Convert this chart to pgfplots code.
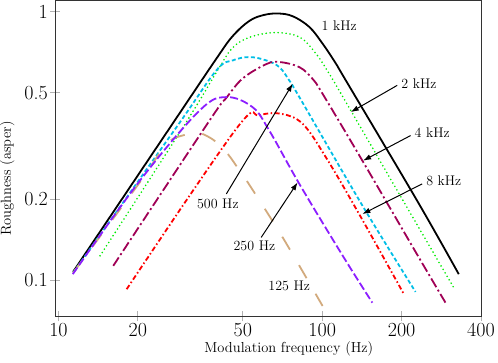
\documentclass[border=0pt]{standalone}
\usepackage{pgfplots}
\pgfplotsset{compat=1.18}
\usetikzlibrary{arrows.meta}

\definecolor{cgreen}{RGB}{0,235,0}
\definecolor{ccyan}{RGB}{0,190,230}
\definecolor{cmaroon}{RGB}{160,0,85}
\definecolor{cred}{RGB}{255,0,0}
\definecolor{cpurple}{RGB}{140,30,255}
\definecolor{ctan}{RGB}{210,170,125}

\begin{document}
\begin{tikzpicture}
\begin{axis}[
  xmode=log, ymode=log,
  scale only axis,
  width=426pt, height=315.7pt,
  xmin=9.7, xmax=400,
  ymin=0.0735, ymax=1.1,
  xtick={10,20,50,100,200,400},
  xticklabels={10,20,50,100,200,400},
  ytick={0.1,0.2,0.5,1},
  yticklabels={0.1,0.2,0.5,1},
  minor xtick={}, minor ytick={},
  tick pos=left,
  tick align=center,
  major tick length=10pt,
  tick style={gray!60, line width=0.8pt},
  axis line style={black!80, line width=0.8pt},
  ticklabel style={font=\fontsize{20}{22}\selectfont},
  xticklabel style={inner sep=0.5pt, yshift=-1pt},
  yticklabel style={inner sep=1pt, xshift=-1pt},
  label style={font=\fontsize{14.5}{16}\selectfont},
  xlabel={Modulation frequency (Hz)},
  ylabel={Roughness (asper)},
  x label style={at={(axis description cs:0.549,0)}, anchor=center, yshift=-33pt},
  y label style={at={(axis description cs:-0.112,0.436)}, anchor=center},
  every axis plot/.append style={line width=1.8pt, smooth, tension=0.6},
]
% 1 kHz
\addplot[black] coordinates {
  (11.36,0.1076) (26.0,0.361) (39.7,0.669) (45.8,0.812)
  (53,0.925) (60,0.972) (68,0.985) (77.3,0.962) (89.3,0.878)
  (100.3,0.761) (112.7,0.641) (122.9,0.555) (229,0.198) (329.4,0.1055)};
% 2 kHz
\addplot[cgreen, line cap=round, dash pattern=on 0pt off 4pt] coordinates {
  (14.37,0.1234) (29.67,0.3715) (40.8,0.622) (45.8,0.735)
  (53,0.803) (65.9,0.836) (81.9,0.805) (94.7,0.698) (106.3,0.588)
  (115.9,0.5095) (128.3,0.429) (232.5,0.157) (315.2,0.094)};
% 500 Hz
\addplot[ccyan, dash pattern=on 4pt off 2.5pt] coordinates {
  (11.39,0.107) (28,0.3715) (39.7,0.605) (45.8,0.659) (53,0.678)
  (61.3,0.659) (68.8,0.622) (75,0.555) (81.9,0.481) (142,0.19)
  (225.9,0.0906)};
% 4 kHz
\addplot[cmaroon, dash pattern=on 10pt off 3pt on 2pt off 3pt] coordinates {
  (16.13,0.1133) (37.4,0.3937) (43.3,0.478) (50,0.565) (61.3,0.638)
  (68.8,0.650) (81.9,0.622) (91.9,0.5626) (100.3,0.495) (142,0.279)
  (232.5,0.1217) (293.4,0.0826)};
% 8 kHz
\addplot[cred, dash pattern=on 5pt off 2.5pt on 1.5pt off 2.5pt] coordinates {
  (18.13,0.0927) (47.2,0.3666) (57.8,0.411) (69.8,0.417) (84.3,0.3826)
  (103.3,0.287) (138,0.1766) (204.1,0.0888)};
% 125 Hz
\addplot[ctan, dash pattern=on 15pt off 18pt] coordinates {
  (11.36,0.1066) (20.35,0.232) (25.7,0.322) (30.1,0.348) (33.5,0.355)
  (36.5,0.345) (39.7,0.3266) (43.9,0.2951) (48.6,0.2562) (52.2,0.2317)
  (70.8,0.1445) (100.3,0.0803)};
% 250 Hz
\addplot[cpurple, dash pattern=on 8pt off 3pt] coordinates {
  (11.33,0.1055) (20.35,0.235) (34.3,0.429) (43.3,0.481) (54.5,0.441)
  (63.1,0.36) (81.9,0.2286) (119.3,0.124) (154.9,0.0826)};

\begin{scope}[font=\fontsize{14}{16}\selectfont]
\node at (axis cs:115.9,0.890) {1 kHz};
\node at (axis cs:232.5,0.540) {2 kHz};
\node at (axis cs:261.1,0.356) {4 kHz};
\node at (axis cs:289,0.235) {8 kHz};
\node at (axis cs:40.2,0.1925) {500 Hz};
\node at (axis cs:55.3,0.1345) {250 Hz};
\node at (axis cs:75.0,0.0954) {125 Hz};
\end{scope}
\begin{scope}[line width=1pt, -{Latex[length=8pt,width=5.5pt]}]
\draw (axis cs:192.5,0.532) -- (axis cs:128.3,0.423);
\draw (axis cs:216.3,0.346) -- (axis cs:142.9,0.279);
\draw (axis cs:239.3,0.2286) -- (axis cs:142.0,0.1766);
\draw (axis cs:43.3,0.2098) -- (axis cs:77.3,0.540);
\draw (axis cs:58.7,0.1445) -- (axis cs:80.7,0.2317);
\end{scope}
\end{axis}
\pgfresetboundingbox
\path ([shift={(-55pt,-46.3pt)}]current axis.south west) rectangle ([shift={(17pt,0.6pt)}]current axis.north east);
\end{tikzpicture}
\end{document}
